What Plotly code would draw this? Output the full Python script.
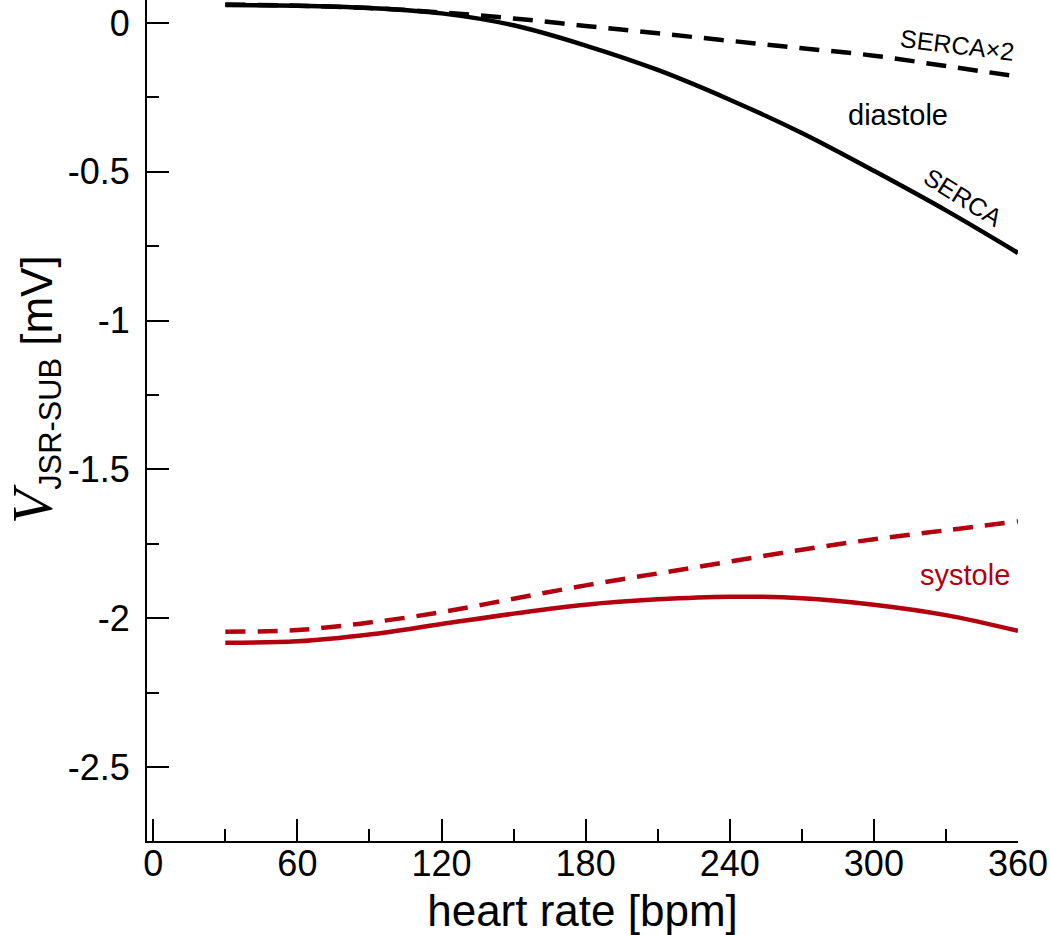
import plotly.graph_objects as go

# Data
heart_rate = [30, 60, 90, 120, 150, 180, 210, 240, 270, 300, 330, 360]
diastole_serca = [0.060, 0.058, 0.050, 0.032, -0.008, -0.076, -0.158, -0.258, -0.370, -0.497, -0.630, -0.773]
diastole_serca2 = [0.062, 0.058, 0.050, 0.035, 0.015, -0.010, -0.035, -0.060, -0.085, -0.110, -0.145, -0.180]
systole_serca = [-2.083, -2.078, -2.055, -2.020, -1.985, -1.955, -1.937, -1.928, -1.933, -1.955, -1.990, -2.043]
systole_serca2 = [-2.046, -2.040, -2.015, -1.980, -1.935, -1.890, -1.850, -1.810, -1.770, -1.735, -1.705, -1.675]

x_tickvals = [0, 60, 120, 180, 240, 300, 360]
x_ticktext = ["0", "60", "120", "180", "240", "300", "360"]
x_minor = [30, 90, 150, 210, 270, 330]
y_tickvals = [0, -0.5, -1, -1.5, -2, -2.5]
y_ticktext = ["0", "-0.5", "-1", "-1.5", "-2", "-2.5"]
y_minor = [-0.25, -0.75, -1.25, -1.75, -2.25]

BLACK = "#000000"
RED = "#b3000f"
FONT = "Liberation Sans, Arial, sans-serif"

fig = go.Figure()
fig.add_trace(go.Scatter(x=heart_rate, y=diastole_serca, mode="lines", line_shape="spline",
                         line=dict(color=BLACK, width=4.5)))
fig.add_trace(go.Scatter(x=heart_rate, y=diastole_serca2, mode="lines", line_shape="spline",
                         line=dict(color=BLACK, width=4.5, dash="20px,12px")))
fig.add_trace(go.Scatter(x=heart_rate, y=systole_serca, mode="lines", line_shape="spline",
                         line=dict(color=RED, width=4.5)))
fig.add_trace(go.Scatter(x=heart_rate, y=systole_serca2, mode="lines", line_shape="spline",
                         line=dict(color=RED, width=4.5, dash="20px,12px")))

axis_common = dict(
    showgrid=False, zeroline=False, showline=True, linecolor=BLACK, linewidth=2,
    ticks="inside", tickcolor=BLACK, tickwidth=2, ticklen=22,
    tickfont=dict(family=FONT, size=36, color=BLACK),
    tickmode="array",
)

fig.update_xaxes(
    **axis_common, range=[-2.6, 360], tickvals=x_tickvals, ticktext=x_ticktext,
    minor=dict(tickmode="array", tickvals=x_minor, ticks="inside", ticklen=12, tickwidth=2, tickcolor=BLACK),
    title=dict(text="heart rate [bpm]", font=dict(family=FONT, size=44, color=BLACK), standoff=13),
    ticklabelstandoff=-10,
)
fig.update_yaxes(
    **axis_common, range=[-2.749, 0.077], tickvals=y_tickvals, ticktext=y_ticktext,
    minor=dict(tickmode="array", tickvals=y_minor, ticks="inside", ticklen=12, tickwidth=2, tickcolor=BLACK),
    ticklabelstandoff=8,
)

annotations = [
    dict(x=(0 - 147) / 871, y=(841 - 390) / 841, xref="paper", yref="paper",
         text="<span style='font-family:Liberation Serif;font-style:italic;font-size:56px'>V</span>"
              "<sub>JSR-SUB</sub> [mV]",
         textangle=-90, showarrow=False, font=dict(family=FONT, size=44, color=BLACK)),
    dict(x=335, y=-0.075, text="SERCA×2", textangle=7, showarrow=False,
         font=dict(family=FONT, size=25, color=BLACK)),
    dict(x=310, y=-0.31, text="diastole", showarrow=False,
         font=dict(family=FONT, size=29, color=BLACK)),
    dict(x=337, y=-0.585, text="SERCA", textangle=32, showarrow=False,
         font=dict(family=FONT, size=25, color=BLACK)),
    dict(x=338, y=-1.856, text="systole", showarrow=False,
         font=dict(family=FONT, size=29, color=RED)),
]

fig.update_layout(
    width=1050, height=935, showlegend=False,
    margin=dict(l=147, r=32, t=0, b=94),
    plot_bgcolor="white", paper_bgcolor="white",
    annotations=annotations,
)

fig.write_html("out.html", config={"displayModeBar": False},
               post_script="document.body.style.margin='0';")
